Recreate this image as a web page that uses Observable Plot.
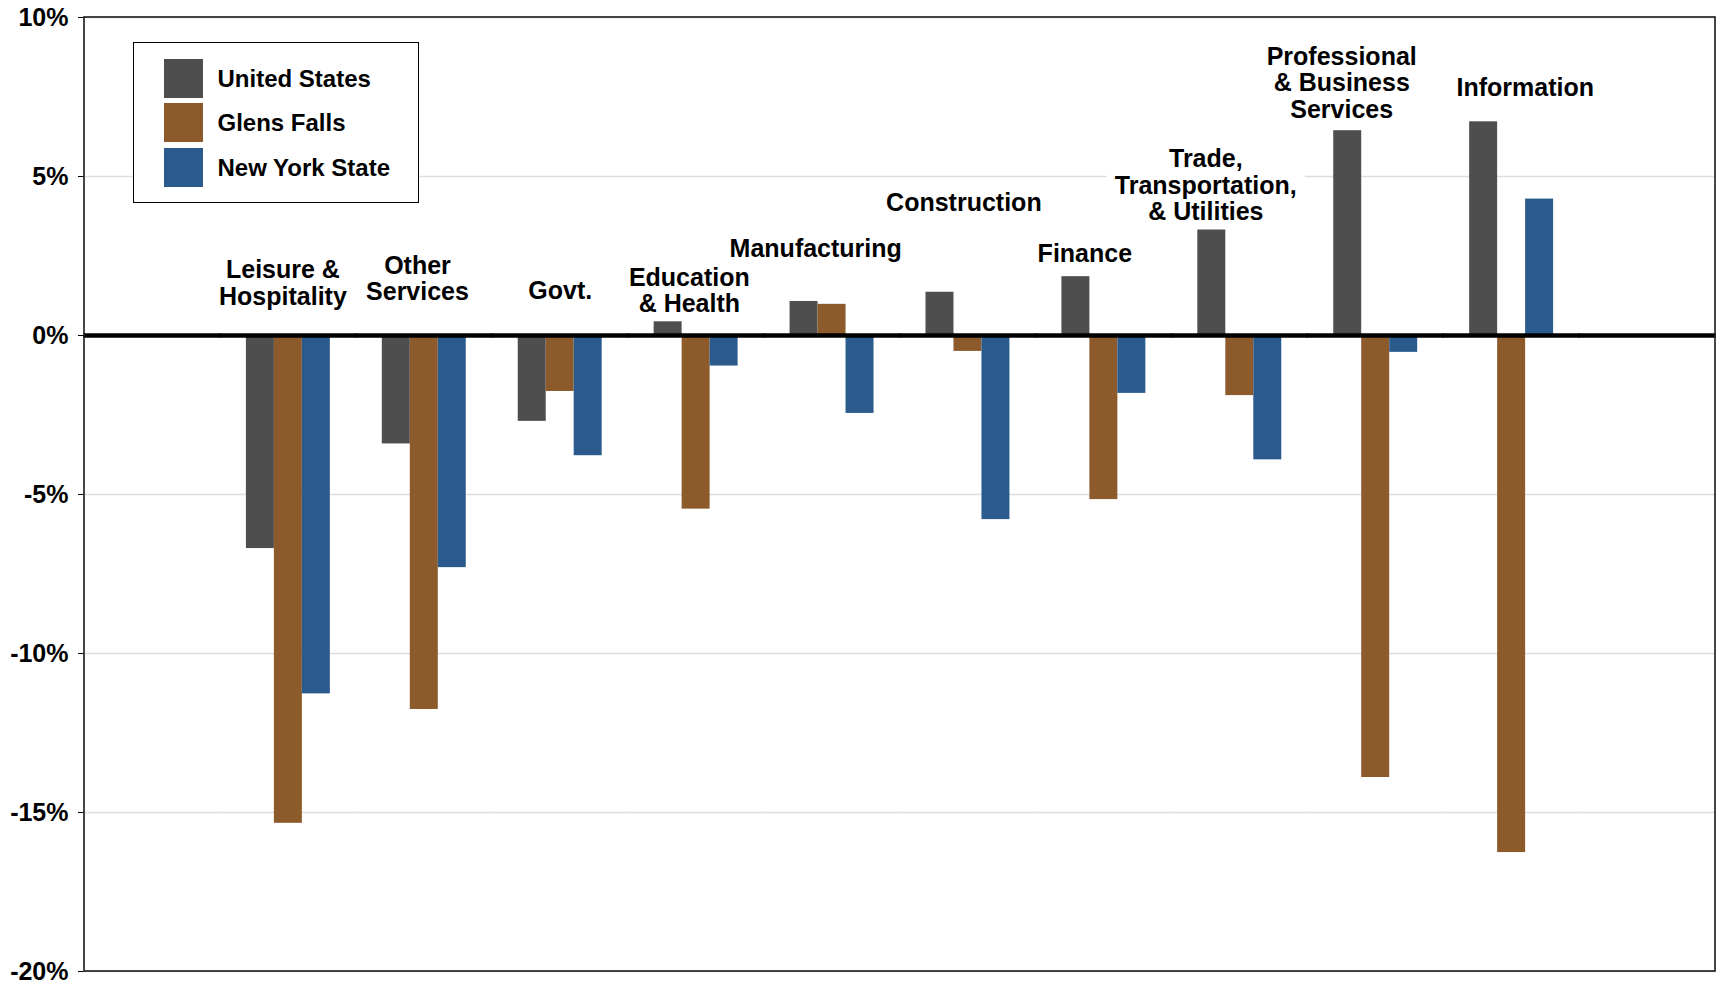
<!DOCTYPE html>
<html>
<head>
<meta charset="utf-8">
<script src="https://cdn.jsdelivr.net/npm/d3@7"></script>
<script src="https://cdn.jsdelivr.net/npm/@observablehq/plot@0.6"></script>
<style>
  html, body { margin: 0; padding: 0; background: #fff; }
  #chart { position: relative; width: 1719px; height: 985px; font-family: "Liberation Sans", Arial, Helvetica, sans-serif; }
  #chart svg { display: block; }
  .legend { position: absolute; left: 133px; top: 42px; width: 286px; height: 161px; box-sizing: border-box;
            border: 1.5px solid #000; background: #fff; }
  .legend .row { position: absolute; left: 29.5px; height: 39px; display: flex; align-items: center; }
  .legend .swatch { width: 39px; height: 39px; margin-right: 15px; }
  .legend .name { font-size: 24px; font-weight: bold; color: #000; line-height: 39px; white-space: nowrap; }
</style>
</head>
<body>
<div id="chart"></div>
<script>
// Employment change by sector, percent
const sectors = [
  "Leisure &\nHospitality",
  "Other\nServices",
  "Govt.",
  "Education\n& Health",
  "Manufacturing",
  "Construction",
  "Finance",
  "Trade,\nTransportation,\n& Utilities",
  "Professional\n& Business\nServices",
  "Information"
];
const series = ["United States", "Glens Falls", "New York State"];
const unitedStates = [-6.70, -3.41, -2.70, 0.43, 1.07, 1.36, 1.85, 3.39, 6.44, 6.72];
const glensFalls   = [-15.34, -11.76, -1.76, -5.46, 0.98, -0.50, -5.16, -1.89, -13.90, -16.26];
const newYorkState = [-11.27, -7.30, -3.78, -0.96, -2.45, -5.79, -1.82, -3.91, -0.53, 4.29];
const yTicks = [-20, -15, -10, -5, 0, 5, 10];

// Sector label placement: height in percent, sideways shift in sector widths
const labelAt    = [1.65, 1.79, 1.41, 1.42, 2.74, 4.17, 2.58, 4.72, 7.95, 7.81];
const labelShift = [-0.04, -0.05, 0, -0.05, -0.12, -0.03, -0.14, -0.25, -0.25, 0.10];

const palette = ["#4e4e4e", "#8c5a2b", "#2a5b8c"];
const W = 1719, H = 985;
const margin = {top: 17, right: 4, bottom: 14, left: 84};

// One empty slot on either side of the sectors
const slots = ["gutter-left", ...sectors, "gutter-right"];
const slotWidth = (W - margin.left - margin.right) / slots.length;

const values = [unitedStates, glensFalls, newYorkState];
const rows = sectors.flatMap((sector, i) =>
  series.map((name, j) => ({sector, series: name, value: values[j][i]}))
);
const gridRows = slots.flatMap(slot => yTicks.map(tick => ({slot, tick})));
const zeroRows = slots.map(slot => ({slot, tick: 0}));

const labelMarks = sectors.map((sector, i) =>
  Plot.text([{sector, at: labelAt[i]}], {
    fx: "sector",
    y: "at",
    text: "sector",
    dx: labelShift[i] * slotWidth,
    fontSize: 25,
    fontWeight: "bold",
    lineHeight: 1.06,
    lineAnchor: "middle",
    fill: "#000"
  })
);

const plot = Plot.plot({
  width: W,
  height: H,
  marginTop: margin.top,
  marginRight: margin.right,
  marginBottom: margin.bottom,
  marginLeft: margin.left,
  style: {
    fontFamily: "'Liberation Sans', Arial, Helvetica, sans-serif",
    fontSize: "25px",
    fontWeight: "bold",
    color: "#000",
    background: "#fff"
  },
  fx: {domain: slots, padding: 0, round: false, axis: null, label: null},
  x: {domain: series, paddingInner: 0, paddingOuter: 26 / 28, round: false, axis: null},
  y: {
    domain: [-20, 10],
    ticks: yTicks,
    tickFormat: d => `${d}%`,
    tickSize: 6,
    tickPadding: 10,
    label: null
  },
  color: {domain: series, range: palette},
  marks: [
    // rules overlap slightly so neighbouring facets join without seams
    Plot.ruleY(gridRows, {fx: "slot", y: "tick", stroke: "#dedede", strokeWidth: 1.4, insetLeft: -0.6, insetRight: -0.6}),
    Plot.barY(rows, {fx: "sector", x: "series", y: "value", fill: "series"}),
    Plot.ruleY(zeroRows, {fx: "slot", y: "tick", stroke: "#000", strokeWidth: 4.5, insetLeft: -0.6, insetRight: -0.6}),
    ...labelMarks
  ]
});

const chart = document.getElementById("chart");
chart.appendChild(plot);

const svg = d3.select(plot);

// White boxes behind the sector labels
const labelTexts = new Set(sectors.map(s => s.replace(/\n/g, "")));
svg.selectAll("text").each(function () {
  if (!labelTexts.has(this.textContent)) return;
  const b = this.getBBox();
  const padX = 8, padY = 4;
  const rect = document.createElementNS("http://www.w3.org/2000/svg", "rect");
  rect.setAttribute("x", b.x - padX);
  rect.setAttribute("y", b.y - padY);
  rect.setAttribute("width", b.width + 2 * padX);
  rect.setAttribute("height", b.height + 2 * padY);
  rect.setAttribute("rx", 3);
  rect.setAttribute("fill", "#fff");
  rect.setAttribute("stroke", "none");
  const t = this.getAttribute("transform");
  if (t) rect.setAttribute("transform", t);
  this.parentNode.insertBefore(rect, this);
});

// Panel border from the scale ranges
const [fx0, fx1] = plot.scale("fx").range;
const [yBottom, yTop] = plot.scale("y").range;
svg.append("rect")
  .attr("x", fx0)
  .attr("y", yTop)
  .attr("width", fx1 - fx0)
  .attr("height", yBottom - yTop)
  .attr("fill", "none")
  .attr("stroke", "#1a1a1a")
  .attr("stroke-width", 1.6);

// Legend
const color = plot.scale("color");
const legend = document.createElement("div");
legend.className = "legend";
series.forEach((name, i) => {
  const row = document.createElement("div");
  row.className = "row";
  row.style.top = `${15.5 + i * 44.5}px`;
  const sw = document.createElement("div");
  sw.className = "swatch";
  sw.style.background = color.range[color.domain.indexOf(name)];
  const label = document.createElement("div");
  label.className = "name";
  label.textContent = name;
  row.append(sw, label);
  legend.appendChild(row);
});
chart.appendChild(legend);
</script>
</body>
</html>
